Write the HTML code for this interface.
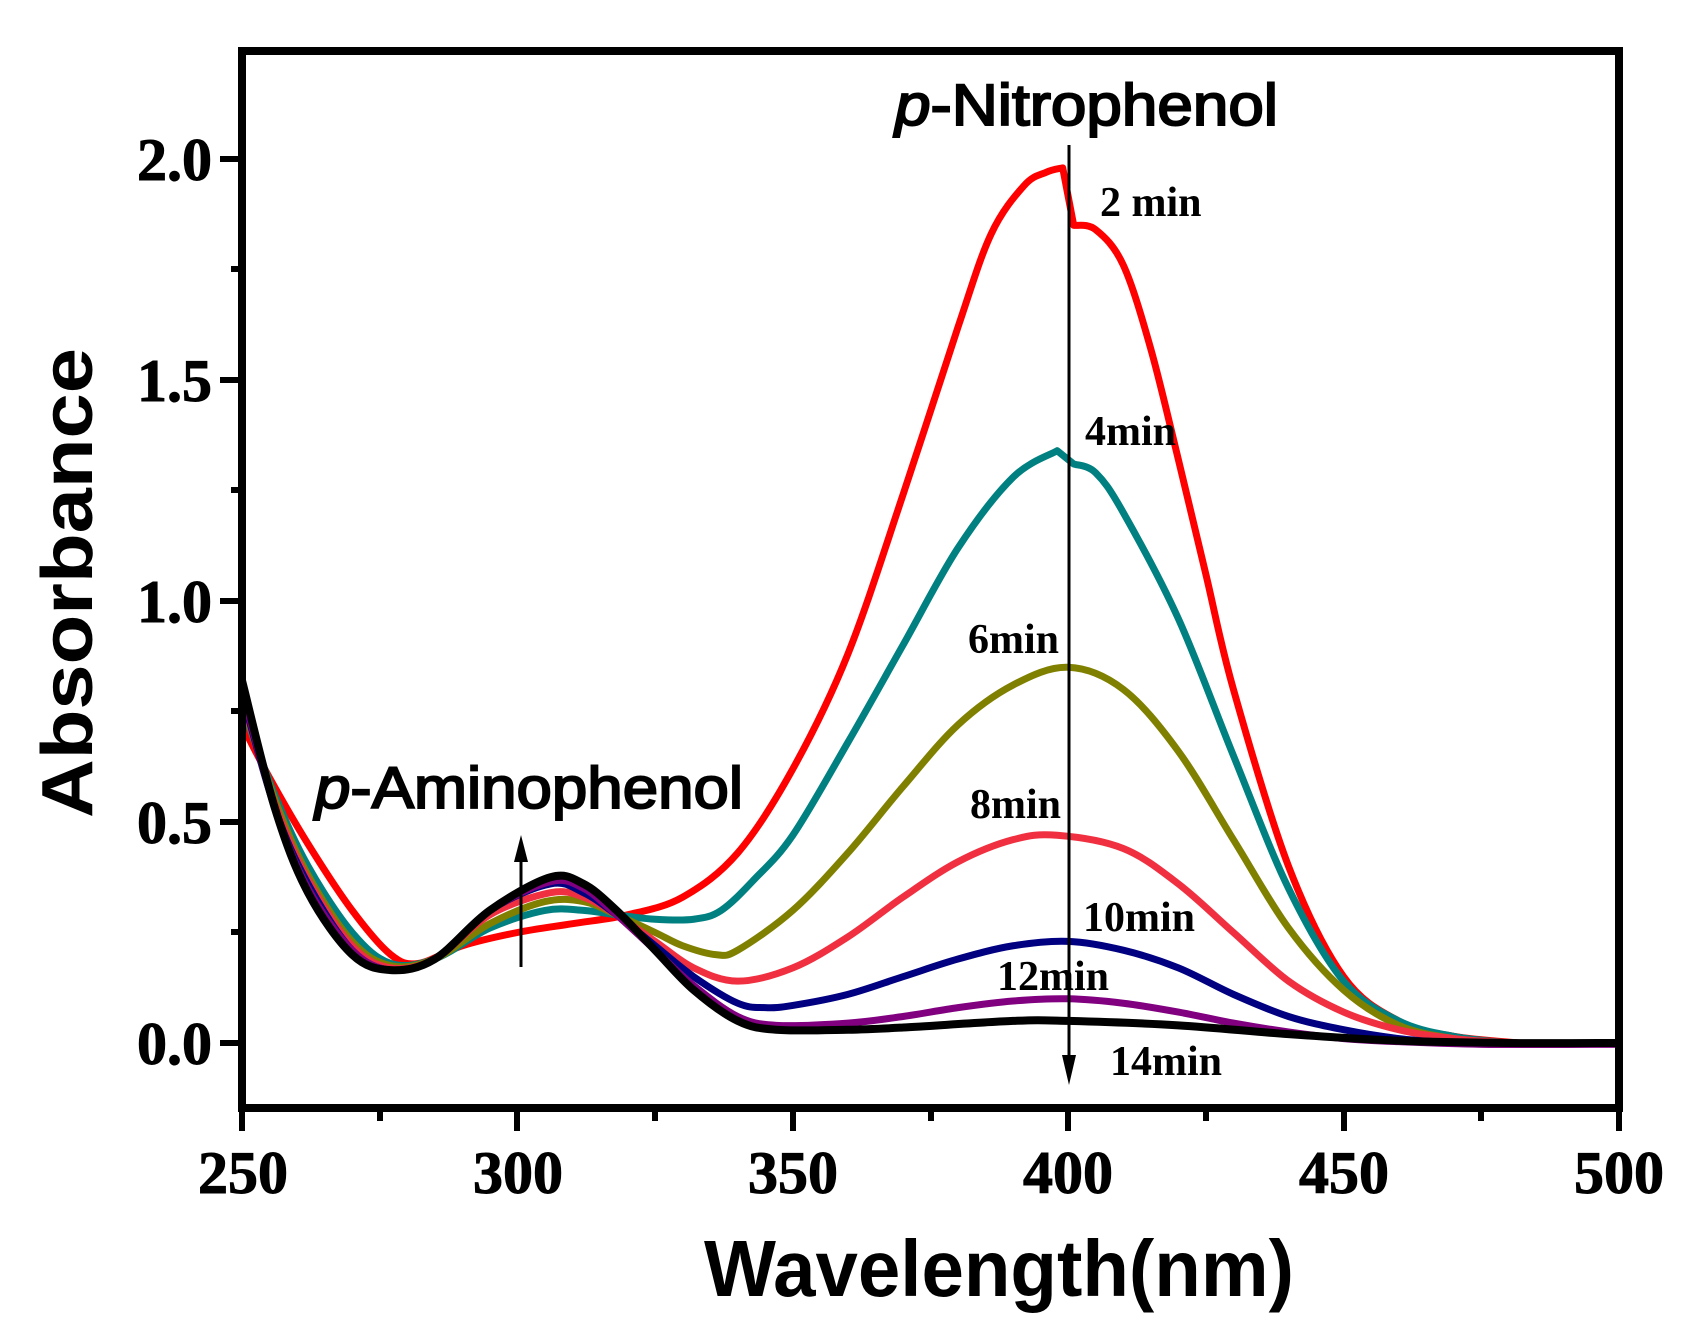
<!DOCTYPE html>
<html><head><meta charset="utf-8"><style>
html,body{margin:0;padding:0;background:#fff;}
svg{display:block;}
.t{font-family:"Liberation Serif",serif;font-weight:bold;}
.s{font-family:"Liberation Sans",sans-serif;}
</style></head><body>
<svg id="c" width="1685" height="1333" viewBox="0 0 1685 1333" xmlns="http://www.w3.org/2000/svg">
<rect width="1685" height="1333" fill="#fff"/>
<g id="curves" fill="none" stroke-width="7" stroke-linejoin="round" stroke-linecap="round"></g>
<rect x="242" y="51" width="1377" height="1057" fill="none" stroke="#000" stroke-width="8"/>
<g stroke="#000" stroke-width="6">
<line x1="242" y1="1108" x2="242" y2="1131"/><line x1="517" y1="1108" x2="517" y2="1131"/><line x1="793" y1="1108" x2="793" y2="1131"/><line x1="1068" y1="1108" x2="1068" y2="1131"/><line x1="1344" y1="1108" x2="1344" y2="1131"/><line x1="1619" y1="1108" x2="1619" y2="1131"/>
<line x1="380" y1="1108" x2="380" y2="1121"/><line x1="655" y1="1108" x2="655" y2="1121"/><line x1="931" y1="1108" x2="931" y2="1121"/><line x1="1206" y1="1108" x2="1206" y2="1121"/><line x1="1481" y1="1108" x2="1481" y2="1121"/>
<line x1="220" y1="1043" x2="242" y2="1043"/><line x1="220" y1="822" x2="242" y2="822"/><line x1="220" y1="601" x2="242" y2="601"/><line x1="220" y1="380" x2="242" y2="380"/><line x1="220" y1="159" x2="242" y2="159"/>
<line x1="231" y1="932" x2="242" y2="932"/><line x1="231" y1="711" x2="242" y2="711"/><line x1="231" y1="490" x2="242" y2="490"/><line x1="231" y1="269" x2="242" y2="269"/>
</g>
<g class="t" font-size="60" text-anchor="middle" stroke="#000" stroke-width="1">
<text x="243" y="1193">250</text><text x="518" y="1193">300</text><text x="793" y="1193">350</text><text x="1068" y="1193">400</text><text x="1344" y="1193">450</text><text x="1619" y="1193">500</text>
</g>
<g class="t" font-size="60" text-anchor="end" stroke="#000" stroke-width="1">
<text x="212" y="1064">0.0</text><text x="212" y="843">0.5</text><text x="212" y="622">1.0</text><text x="212" y="401">1.5</text><text x="212" y="180">2.0</text>
</g>
<text class="s" font-weight="bold" font-size="80" x="999" y="1296" text-anchor="middle" textLength="590" lengthAdjust="spacingAndGlyphs">Wavelength(nm)</text>
<text class="s" font-weight="bold" font-size="72" transform="translate(92,583) rotate(-90)" text-anchor="middle" textLength="470" lengthAdjust="spacingAndGlyphs">Absorbance</text>
<text class="s" font-size="58" x="895" y="125" textLength="383" lengthAdjust="spacingAndGlyphs" stroke="#000" stroke-width="2"><tspan font-style="italic">p</tspan>-Nitrophenol</text>
<text class="s" font-size="58" x="315" y="808" textLength="428" lengthAdjust="spacingAndGlyphs" stroke="#000" stroke-width="2"><tspan font-style="italic">p</tspan>-Aminophenol</text>
<g class="t" font-size="42">
<text x="1100" y="216">2 min</text><text x="1085" y="445">4min</text><text x="968" y="653">6min</text><text x="970" y="818">8min</text><text x="1083" y="931">10min</text><text x="997" y="990">12min</text><text x="1110" y="1075">14min</text>
</g>
<line x1="1069" y1="145" x2="1069" y2="1060" stroke="#000" stroke-width="3"/>
<polygon points="1062,1055 1076,1055 1069,1085" fill="#000"/>
<line x1="521" y1="967" x2="521" y2="855" stroke="#000" stroke-width="3"/>
<polygon points="514,862 528,862 521,835" fill="#000"/>
</svg>
<script>
var X=function(n){return 242+(n-250)*5.508},Y=function(a){return 1043-a*442};
var S=[
["#ff0000",[[250,0.72],[255,0.6],[262,0.45],[270,0.3],[277,0.2],[282,0.18],[290,0.22],[300,0.25],[310,0.27],[320,0.29],[330,0.33],[340,0.43],[350,0.62],[360,0.88],[370,1.24],[380,1.62],[386,1.83],[392,1.94],[396,1.97],[399,1.98],[401,1.85],[405,1.84],[410,1.76],[415,1.57],[420,1.32],[425,1.06],[430,0.8],[440,0.4],[450,0.15],[460,0.05],[470,0.015],[482,0.0]],[399]],
["#008080",[[250,0.76],[256,0.56],[262,0.4],[270,0.25],[277,0.18],[285,0.19],[295,0.26],[305,0.3],[312,0.3],[318,0.29],[325,0.28],[332,0.28],[337,0.3],[343,0.37],[350,0.47],[360,0.68],[370,0.9],[380,1.12],[390,1.28],[398,1.34],[401,1.31],[405,1.29],[410,1.2],[420,0.96],[430,0.65],[440,0.35],[450,0.14],[460,0.05],[470,0.015],[480,0]],[398]],
["#808000",[[250,0.77],[256,0.55],[262,0.38],[270,0.23],[277,0.175],[285,0.19],[295,0.27],[305,0.32],[312,0.32],[318,0.29],[325,0.25],[330,0.22],[336,0.2],[340,0.21],[350,0.3],[360,0.43],[370,0.58],[380,0.72],[390,0.81],[400,0.85],[410,0.8],[420,0.66],[430,0.46],[440,0.26],[450,0.12],[460,0.04],[470,0.01],[480,0]],[]],
["#f03040",[[250,0.78],[256,0.54],[262,0.37],[270,0.22],[277,0.17],[285,0.19],[295,0.29],[306,0.34],[312,0.33],[318,0.29],[325,0.23],[332,0.17],[340,0.14],[350,0.17],[360,0.24],[370,0.33],[380,0.41],[390,0.46],[398,0.47],[410,0.44],[420,0.36],[430,0.25],[440,0.14],[450,0.07],[460,0.03],[470,0.01],[480,0]],[]],
["#000080",[[250,0.79],[256,0.53],[262,0.36],[270,0.21],[277,0.165],[285,0.19],[295,0.3],[306,0.36],[312,0.34],[318,0.29],[325,0.22],[332,0.15],[340,0.09],[345,0.08],[350,0.085],[360,0.11],[370,0.15],[380,0.19],[390,0.22],[400,0.23],[410,0.21],[420,0.17],[430,0.11],[440,0.06],[450,0.03],[460,0.01],[470,0]],[]],
["#800080",[[250,0.8],[256,0.53],[262,0.35],[270,0.21],[277,0.165],[285,0.19],[295,0.3],[306,0.365],[312,0.35],[318,0.29],[325,0.21],[332,0.13],[340,0.06],[347,0.04],[360,0.045],[370,0.06],[380,0.08],[390,0.095],[400,0.1],[410,0.09],[420,0.07],[430,0.045],[440,0.025],[450,0.01],[460,0.003],[475,-0.003],[500,-0.003]],[]],
["#000000",[[250,0.82],[256,0.53],[262,0.34],[270,0.2],[277,0.165],[285,0.19],[295,0.3],[306,0.375],[312,0.36],[318,0.3],[325,0.21],[332,0.12],[340,0.05],[347,0.03],[360,0.03],[370,0.035],[390,0.05],[400,0.05],[420,0.04],[440,0.02],[460,0.005],[480,0.0],[500,0.0]],[]]
];
var g=document.getElementById("curves"),d;
S.forEach(function(s){var raw=s[1],br=s[2];var p=raw.map(function(q){return [X(q[0]),Y(q[1])]});
d="M"+p[0][0]+","+p[0][1];
for(var i=0;i<p.length-1;i++){
if(br.indexOf(raw[i][0])>=0){d+=" L"+p[i+1][0]+","+p[i+1][1];continue;}
var p1=p[i],p2=p[i+1];
var p0=(i>0&&br.indexOf(raw[i-1][0])<0)?p[i-1]:p1;
var p3=(p[i+2]&&br.indexOf(raw[i+1][0])<0)?p[i+2]:p2;
d+=" C"+(p1[0]+(p2[0]-p0[0])/6)+","+(p1[1]+(p2[1]-p0[1])/6)+" "+(p2[0]-(p3[0]-p1[0])/6)+","+(p2[1]-(p3[1]-p1[1])/6)+" "+p2[0]+","+p2[1];}
var e=document.createElementNS("http://www.w3.org/2000/svg","path");e.setAttribute("d",d);e.setAttribute("stroke",s[0]);if(s[0]=="#000000")e.setAttribute("stroke-width","8");g.appendChild(e);});
</script>
</body></html>
